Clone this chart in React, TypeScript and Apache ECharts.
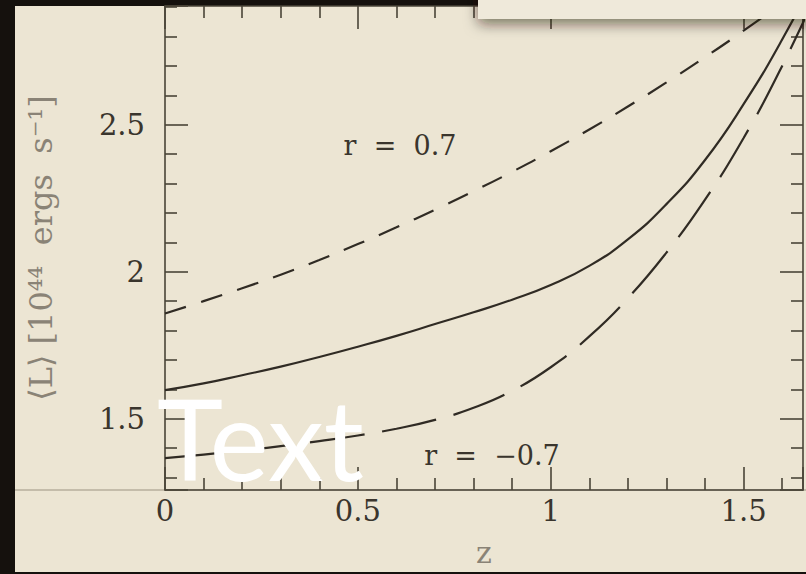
import React, { useEffect, useRef } from "react";
import * as echarts from "echarts";

// redshift grid
const zValues = [0, 0.1, 0.2, 0.3, 0.4, 0.5, 0.6, 0.7, 0.8, 0.9, 1.0, 1.1, 1.2, 1.3, 1.4, 1.5, 1.6, 1.7];
// mean luminosity, 10^44 ergs/s
const solidL = [1.597, 1.62, 1.648, 1.677, 1.71, 1.745, 1.782, 1.822, 1.862, 1.905, 1.955, 2.02, 2.11, 2.23, 2.38, 2.57, 2.79, 3.04];
const rPlusL = [1.858, 1.9, 1.944, 1.99, 2.04, 2.094, 2.151, 2.211, 2.274, 2.34, 2.41, 2.484, 2.562, 2.644, 2.73, 2.82, 2.915, 3.015];
const rMinusL = [1.366, 1.378, 1.392, 1.407, 1.424, 1.443, 1.466, 1.496, 1.537, 1.595, 1.675, 1.78, 1.91, 2.065, 2.245, 2.455, 2.7, 2.98];

const xTickLabels = ["0", "0.5", "1", "1.5"];
const yTickLabels = ["1.5", "2", "2.5"];
const annotations = [
  { text: "r  =  0.7", x: 400, y: 145 },
  { text: "r  =  \u22120.7", x: 492, y: 455 },
];

const X_MIN = 0;
const X_MAX = 1.654;
const Y_MIN = 1.2575;
const Y_MAX = 2.904;

const SERIF = "'DejaVu Serif', 'Liberation Serif', serif";
const INK = "#302b24";
const AXIS = "#4a4438";

const pairs = (ys: number[]) => zValues.map((z, i) => [z, ys[i]]);
const fmt = (labels: string[]) => (v: number) => {
  const s = String(Math.round(v * 100) / 100);
  return labels.includes(s) ? s : "";
};

export default function App() {
  const ref = useRef<HTMLDivElement>(null);
  useEffect(() => {
    if (!ref.current) return;
    const chart = echarts.init(ref.current, undefined, { renderer: "svg" });

    const tickCommon = {
      axisLine: { show: true, onZero: false, lineStyle: { color: AXIS, width: 1.6 } },
      axisTick: { show: true, inside: true, length: 23, lineStyle: { color: AXIS, width: 1.6 } },
      minorTick: { show: true, splitNumber: 5, length: 12, lineStyle: { color: AXIS, width: 1.6 } },
      splitLine: { show: false },
      minorSplitLine: { show: false },
    };

    const xBase = {
      type: "value" as const,
      min: X_MIN,
      max: X_MAX,
      interval: 0.5,
      ...tickCommon,
    };
    const yBase = {
      type: "value" as const,
      min: Y_MIN,
      max: Y_MAX,
      splitNumber: 3,
      ...tickCommon,
    };

    const lineSeries = (name: string, ys: number[], type: any) => ({
      name,
      type: "line",
      data: pairs(ys),
      xAxisIndex: 0,
      yAxisIndex: 0,
      smooth: true,
      showSymbol: false,
      symbol: "none",
      clip: true,
      lineStyle: { color: INK, width: 2.2, type },
      z: 3,
    });

    chart.setOption({
      animation: false,
      backgroundColor: "#15110d",
      grid: { left: 165, top: 6, right: -9, bottom: 84, containLabel: false },
      xAxis: [
        {
          ...xBase,
          position: "bottom",
          name: "z",
          nameLocation: "middle",
          nameGap: 47,
          nameTextStyle: { fontFamily: SERIF, fontSize: 30, color: "#8a8376" },
          axisLabel: {
            show: true,
            margin: 6,
            fontFamily: SERIF,
            fontSize: 29,
            color: "#3a352d",
            formatter: fmt(xTickLabels),
          },
        },
        {
          ...xBase,
          position: "top",
          axisLabel: { show: false },
        },
      ],
      yAxis: [
        {
          ...yBase,
          position: "left",
          name: "\u27E8L\u27E9 [10\u2074\u2074  ergs  s\u207B\u00B9]",
          nameLocation: "middle",
          nameGap: 108,
          nameRotate: 90,
          nameTextStyle: { fontFamily: SERIF, fontSize: 32, color: "#8a8376" },
          axisLabel: {
            show: true,
            margin: 20,
            fontFamily: SERIF,
            fontSize: 29,
            color: "#3a352d",
            formatter: fmt(yTickLabels),
          },
        },
        {
          ...yBase,
          position: "right",
          axisLabel: { show: false },
        },
      ],
      series: [
        lineSeries("solid", solidL, "solid"),
        lineSeries("r = 0.7", rPlusL, [22, 16]),
        lineSeries("r = -0.7", rMinusL, [55, 18]),
      ],
      graphic: [
        {
          type: "rect",
          z: -10,
          silent: true,
          shape: { x: 15, y: 6, width: 800, height: 566 },
          style: { fill: "#ece5d3" },
        },
        {
          type: "line",
          z: -5,
          silent: true,
          shape: { x1: 15, y1: 490, x2: 806, y2: 490 },
          style: { stroke: "#9c9482", lineWidth: 1.2 },
        },
        ...annotations.map((a) => ({
          type: "text",
          z: 5,
          silent: true,
          x: a.x,
          y: a.y,
          style: {
            text: a.text,
            fontFamily: SERIF,
            fontSize: 27,
            fill: "#3a352d",
            align: "center",
            verticalAlign: "middle",
          },
        })),
        {
          type: "rect",
          z: 50,
          silent: true,
          shape: { x: 478, y: -20, width: 340, height: 39 },
          style: {
            fill: "#efe9da",
            shadowBlur: 14,
            shadowColor: "rgba(30,20,5,0.55)",
            shadowOffsetY: 5,
          },
        },
        {
          type: "text",
          z: 100,
          silent: true,
          x: 157,
          y: 437,
          style: {
            text: "Text",
            fontFamily: "Lato, 'Open Sans', sans-serif",
            fontSize: 112,
            fill: "#ffffff",
            align: "left",
            verticalAlign: "middle",
          },
        },
      ],
    });

    return () => chart.dispose();
  }, []);

  return (
    <div
      ref={ref}
      style={{ position: "fixed", left: 0, top: 0, width: 806, height: 574, overflow: "hidden" }}
    />
  );
}
